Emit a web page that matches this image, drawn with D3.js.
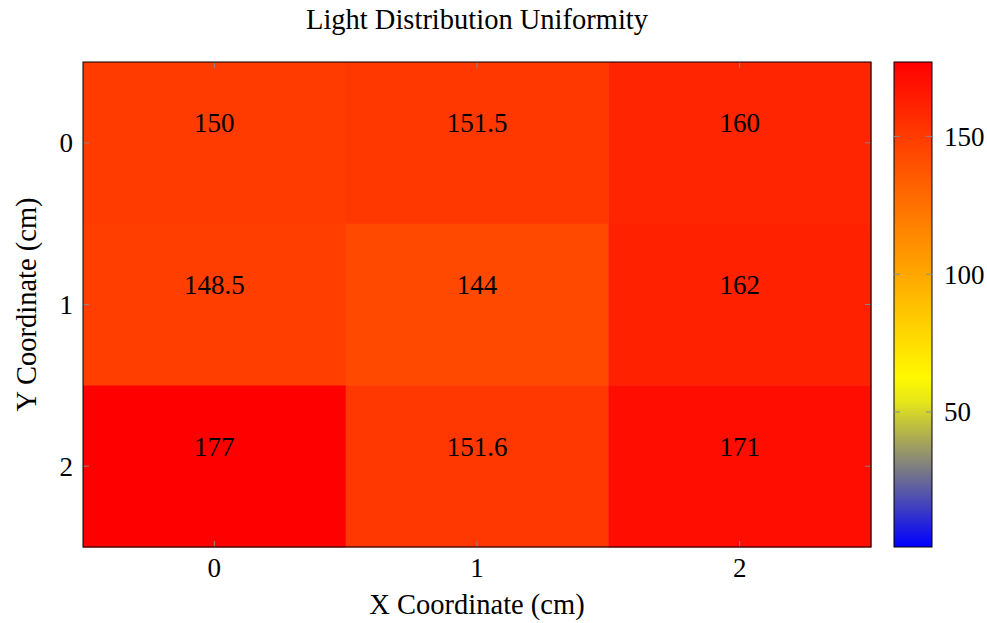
<!DOCTYPE html>
<html>
<head>
	<script src="https://d3js.org/d3.v7.min.js"></script>
	<style>
		body{margin:0;background:#fff}
		text{font-family:'Liberation Serif','Times New Roman',serif;fill:#000}
	</style>
</head>
<body>
	<div class="chart"></div>
	<script>
		// data
		const xCats = [0, 1, 2];
		const yCats = [0, 1, 2];
		const values = [
			[150, 151.5, 160],
			[148.5, 144, 162],
			[177, 151.6, 171]
		];
		const cbTicks = [50, 100, 150];
		const metaRange = [1, 177];

		const W = 987, H = 623;
		const svg = d3.select('.chart').append('svg').attr('width', W).attr('height', H);

		const pLeft = 83, pRight = 871, pTop = 62, pBottom = 547;
		const x = d3.scaleBand().domain(xCats).range([pLeft, pRight]);
		const y = d3.scaleBand().domain(yCats).range([pTop, pBottom]);

		const hot = d3.piecewise(d3.interpolateRgb, ['#0000ff', '#ffff00', '#ff8000', '#ff0000']);
		const color = d3.scaleSequential(hot).domain(metaRange);

		const numSize = '27px', labSize = '28.5px';

		const cells = [];
		yCats.forEach((r, i) => xCats.forEach((c, j) => cells.push({x: c, y: r, v: values[i][j]})));

		svg.selectAll('rect.cell').data(cells).enter().append('rect')
			.attr('class', 'cell')
			.attr('x', d => x(d.x)).attr('y', d => y(d.y))
			.attr('width', x.bandwidth() + 0.5).attr('height', y.bandwidth() + 0.5)
			.attr('fill', d => color(d.v));

		svg.selectAll('text.val').data(cells).enter().append('text')
			.attr('class', 'val')
			.attr('x', d => x(d.x) + x.bandwidth() / 2)
			.attr('y', d => y(d.y) + y.bandwidth() / 2 - 10.5)
			.attr('text-anchor', 'middle')
			.style('font-size', numSize)
			.text(d => d.v);

		// tick marks inside frame
		const tk = 6;
		xCats.forEach(c => {
			const cx = x(c) + x.bandwidth() / 2;
			svg.append('line').attr('x1', cx).attr('x2', cx).attr('y1', pBottom).attr('y2', pBottom - tk).attr('stroke', '#888');
			svg.append('line').attr('x1', cx).attr('x2', cx).attr('y1', pTop).attr('y2', pTop + tk).attr('stroke', '#888');
			svg.append('text').attr('x', cx).attr('y', pBottom + 30).attr('text-anchor', 'middle')
				.style('font-size', numSize).text(c);
		});
		yCats.forEach(r => {
			const cy = y(r) + y.bandwidth() / 2;
			svg.append('line').attr('x1', pLeft).attr('x2', pLeft + tk).attr('y1', cy).attr('y2', cy).attr('stroke', '#888');
			svg.append('line').attr('x1', pRight).attr('x2', pRight - tk).attr('y1', cy).attr('y2', cy).attr('stroke', '#888');
			svg.append('text').attr('x', pLeft - 10).attr('y', cy).attr('dy', '0.35em').attr('text-anchor', 'end')
				.style('font-size', numSize).text(r);
		});

		svg.append('rect').attr('x', pLeft).attr('y', pTop).attr('width', pRight - pLeft).attr('height', pBottom - pTop)
			.attr('fill', 'none').attr('stroke', '#000').attr('stroke-width', 1);

		// titles
		svg.append('text').attr('x', (pLeft + pRight) / 2).attr('y', 29).attr('text-anchor', 'middle')
			.style('font-size', labSize).text('Light Distribution Uniformity');
		svg.append('text').attr('x', (pLeft + pRight) / 2).attr('y', 614).attr('text-anchor', 'middle')
			.style('font-size', labSize).text('X Coordinate (cm)');
		svg.append('text').attr('transform', `translate(36,${(pTop + pBottom) / 2}) rotate(-90)`).attr('text-anchor', 'middle')
			.style('font-size', labSize).text('Y Coordinate (cm)');

		// colorbar
		const cbL = 894, cbR = 932;
		const cbY = d3.scaleLinear().domain(metaRange).range([pBottom, pTop]);
		const grad = svg.append('defs').append('linearGradient').attr('id', 'cbgrad')
			.attr('x1', 0).attr('y1', 1).attr('x2', 0).attr('y2', 0);
		d3.range(0, 1.0001, 0.05).forEach(t => {
			grad.append('stop').attr('offset', t).attr('stop-color', hot(t));
		});
		svg.append('rect').attr('x', cbL).attr('y', pTop).attr('width', cbR - cbL).attr('height', pBottom - pTop)
			.attr('fill', 'url(#cbgrad)').attr('stroke', '#000');
		cbTicks.forEach(v => {
			const ty = cbY(v);
			svg.append('line').attr('x1', cbL).attr('x2', cbL + tk).attr('y1', ty).attr('y2', ty).attr('stroke', '#888');
			svg.append('line').attr('x1', cbR).attr('x2', cbR - tk).attr('y1', ty).attr('y2', ty).attr('stroke', '#888');
			svg.append('text').attr('x', cbR + 12).attr('y', ty).attr('dy', '0.35em')
				.style('font-size', numSize).text(v);
		});
	</script>
</body>
</html>
